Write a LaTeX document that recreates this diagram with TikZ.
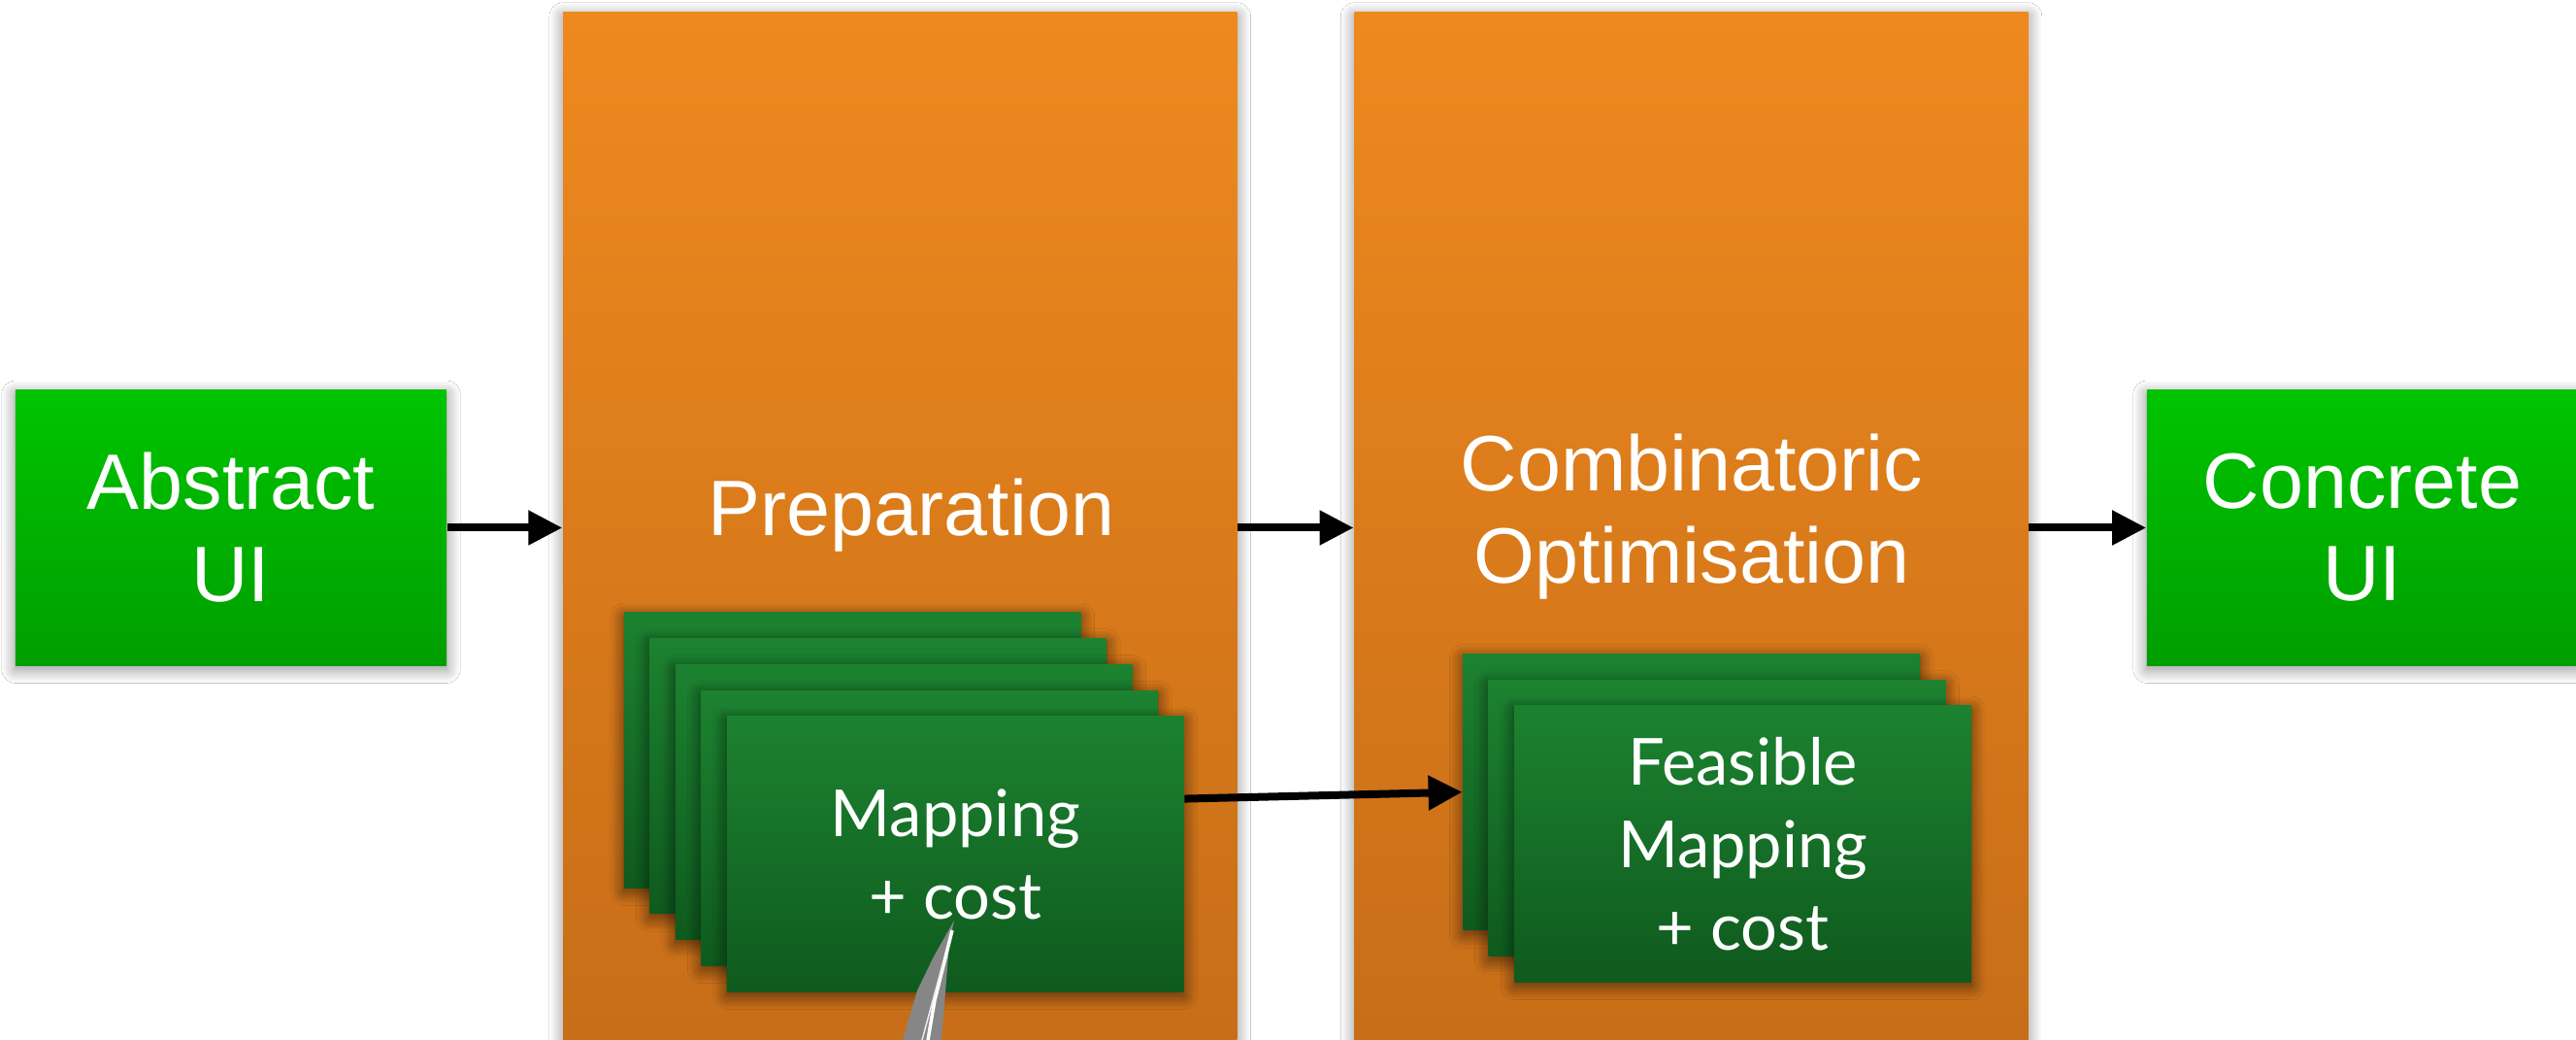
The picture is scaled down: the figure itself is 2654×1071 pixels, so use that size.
\documentclass[tikz,border=0pt]{standalone}
\usepackage{fontspec}
\setmainfont{Liberation Sans}
\newfontfamily\gillfont{Lato}
\usetikzlibrary{arrows.meta,calc,shadows.blur}
\definecolor{uitop}{HTML}{00C400}
\definecolor{uibot}{HTML}{009E00}
\definecolor{ortop}{HTML}{EE891E}
\definecolor{orbot}{HTML}{C66D18}
\definecolor{cdtop}{HTML}{1C8230}
\definecolor{cdbot}{HTML}{0F5A1E}
\tikzset{softshadow/.style={blur shadow={shadow xshift=0pt, shadow yshift=-1.2pt,
    shadow blur radius=4pt, shadow blur steps=30, shadow opacity=#1}}}
\begin{document}
\begin{tikzpicture}[x=0.01cm,y=-0.01cm,
  uibox/.style={inner sep=0pt, minimum width=4.44cm, minimum height=2.83cm,
    top color=uitop, bottom color=uibot, text=white, align=center,
    font=\fontsize{23pt}{27pt}\selectfont, softshadow=45},
  stagebox/.style={inner sep=0pt, minimum width=6.94cm, minimum height=10.87cm,
    top color=ortop, bottom color=orbot, softshadow=45},
  stagelabel/.style={text=white, align=center, inner sep=0pt,
    font=\fontsize{23pt}{27pt}\selectfont},
  card/.style={inner sep=0pt, minimum width=4.705cm, minimum height=2.83cm,
    top color=cdtop, bottom color=cdbot, text=white, align=center,
    font=\gillfont\fontsize{19pt}{24.2pt}\selectfont, softshadow=60},
  arr/.style={line width=0.08cm, -{Triangle[length=0.35cm,width=0.34cm]}}
]
\useasboundingbox[fill=white] (0,0) rectangle (2654,1071);

% green end boxes
\node[uibox] (absui) at (238,543.5) {Abstract\\UI};
\node[uibox] (concui) at (2434,543.5) {Concrete\\UI};

% orange stage boxes
\node[stagebox] (prep) at (927.25,556.5) {};
\node[stagebox] (comb) at (1742.5,556.5) {};
\node[stagelabel, anchor=base] (preptxt) at (939,552) {Preparation};
\node[stagelabel] (combtxt) at (1743,532) {Combinatoric\\Optimisation};

% stack of mappings in Preparation
\node[card] (pc1) at (878.25,772.5) {};
\node[card] (pc2) at (904.75,799.25) {};
\node[card] (pc3) at (931.25,826) {};
\node[card] (pc4) at (957.75,852.75) {};
\node[card] (pc5) at (984.25,879.5) {Mapping\\+ cost};

% stack of feasible mappings in Combinatoric Optimisation
\node[card, minimum height=2.84cm] (cc1) at (1742.7,815.7) {};
\node[card, minimum height=2.84cm] (cc2) at (1768.9,842.7) {};
\node[card, minimum height=2.84cm] (cc3) at (1795.7,869) {Feasible\\Mapping\\+ cost};

% arrows
\draw[arr] (absui.east) -- (absui.east -| prep.west);
\draw[arr] (prep.east |- absui.east) -- (comb.west |- absui.east);
\draw[arr] (comb.east |- concui.west) -- (concui.west);
\draw[arr] ($(pc5.north east)!0.3!(pc5.south east)$) -- (cc1.west);

% pen stroke
\fill[gray!95] (983,948) -- (978,972) -- (970,1071) -- (930,1071) -- (945,1020) -- (962,985) -- cycle;
\draw[white, line width=0.035cm] (981,958) -- (963,1030) -- (956,1071);
\draw[white!85!gray, line width=0.015cm] (972,990) -- (950,1071);
\end{tikzpicture}
\end{document}
